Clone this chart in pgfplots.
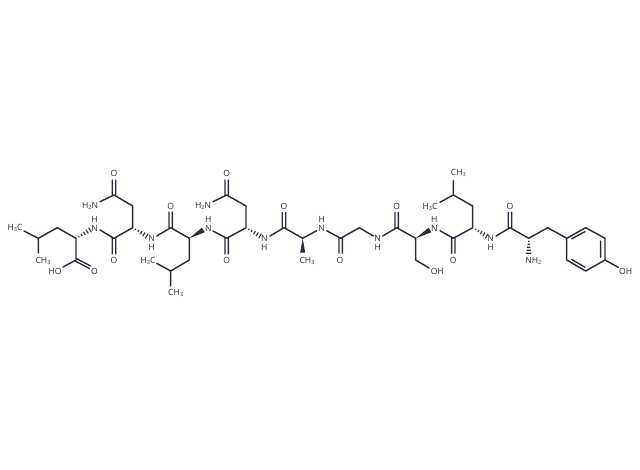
\documentclass[border=0pt]{standalone}
\usepackage{fontspec}
\setmainfont{Open Sans}
\usepackage{pgfplots}
\pgfplotsset{compat=1.18}
\definecolor{bond}{HTML}{262C3C}
\newcommand{\sub}[1]{\raisebox{-0.25ex}{\fontsize{5.5}{5.5}\selectfont #1}}
\newcommand{\lab}[3]{\node[font=\fontsize{8.6}{9}\selectfont, text=bond, inner sep=0pt] at (axis cs:#1,#2) {#3};}
\begin{document}
\begin{tikzpicture}
\begin{axis}[
    width=640pt, height=470pt, scale only axis,
    xmin=0, xmax=640, ymin=0, ymax=470,
    y dir=reverse,
    hide axis, clip=false,
    empty line=jump,
]
% single bonds
\addplot[bond, line width=1.45pt, line join=round, line cap=round, no markers] coordinates {
(24,231) (38.3,238.3) (57.3,227.7) (76,238.3) (76,260) (63,267)

(38.3,238.3) (38.3,253)

(100,230) (114,238.3) (132.7,227.7) (132.7,206) (114,195) (100,201.7)

(156.7,236) (170.7,227.7) (189.3,238.3) (189.3,260) (170.7,271) (170.7,286)

(170.7,271) (156.7,263.3)

(213,231) (226.7,238.3) (246,227.7) (246,206) (226.7,195) (213,201.7)

(270,236) (284,227.7) (302.7,238.3) (316.7,230.7)

(326.7,230.7) (340.7,238.3) (359.3,227.7) (373.3,236)

(382.7,236) (396.7,227.7) (415.7,238.3) (415.7,260) (429,268)

(440,230.7) (453.3,238.3) (472.7,227.7) (472.7,206) (453.3,195) (453.3,180.7)

(453.3,195) (440,202.3)

(496,236) (510,227.7) (528.7,238.3) (547.7,227.7) (566.7,238.3) (585.7,227.7) (605,238.3) (605,260) (585.7,271) (566.7,260) (566.7,238.3)

(605,260) (618.3,267.3)
};
% C=O pairs and the inner ring lines
\addplot[bond, line width=1.35pt, line cap=round, no markers] coordinates {
(75.4,261.2) (89.4,268.5)

(76.7,258.8) (90.7,266)

(112.3,238.3) (112.3,254)

(115.7,238.3) (115.7,254)

(112.3,195) (112.3,180)

(115.7,195) (115.7,180)

(169,227.7) (169,212)

(172.4,227.7) (172.4,212)

(225,238.3) (225,254)

(228.4,238.3) (228.4,254)

(225,195) (225,180)

(228.4,195) (228.4,180)

(282.3,227.7) (282.3,212.3)

(285.7,227.7) (285.7,212.3)

(339,238.3) (339,253.3)

(342.4,238.3) (342.4,253.3)

(395,227.7) (395,212.3)

(398.4,227.7) (398.4,212.3)

(451.6,238.3) (451.6,253.3)

(455,238.3) (455,253.3)

(508.3,227.7) (508.3,212.3)

(511.7,227.7) (511.7,212.3)

(571.7,238.8) (585,231.6)

(600.6,241) (600.6,257.3)

(571.7,259.5) (585,267.2)
};
% solid wedges
\addplot[bond, fill=bond, draw=none, no markers] coordinates {(189.3,238.3) (201.9,227.7) (204.7,232.3)} -- cycle;
\addplot[bond, fill=bond, draw=none, no markers] coordinates {(415.7,238.3) (428.6,227.7) (431.4,232.3)} -- cycle;
\addplot[bond, fill=bond, draw=none, no markers] coordinates {(302.7,238.3) (300.2,252.7) (305.2,252.7)} -- cycle;
% hashed wedges
\addplot[bond, line width=1.1pt, no markers] coordinates {
(78.4,236) (79.2,237.2)

(81,234) (82.2,236)

(83.5,231.8) (85.3,234.8)

(86.1,229.8) (88.3,233.6)

(88.6,227.7) (91.4,232.3)

(135.1,230) (135.9,228.8)

(137.7,232) (138.9,230)

(140.2,234.2) (142,231.2)

(142.8,236.2) (145,232.4)

(145.3,238.3) (148.1,233.7)

(248.4,230) (249.2,228.8)

(251,232) (252.2,230)

(253.5,234.2) (255.3,231.2)

(256.1,236.2) (258.3,232.4)

(258.6,238.3) (261.4,233.7)

(475.1,230) (475.9,228.8)

(477.7,232) (478.9,230)

(480.2,234.2) (482,231.2)

(482.8,236.2) (485,232.4)

(485.3,238.3) (488.1,233.7)

(528,241.3) (529.4,241.3)

(527.5,244.3) (529.9,244.3)

(527,247.3) (530.4,247.3)

(526.5,250.3) (530.9,250.3)

(526,253.3) (531.4,253.3)
};
% atom labels
\lab{15}{228}{H\sub{3}C}
\lab{43}{261}{CH\sub{3}}
\lab{55}{271}{HO}
\lab{94.5}{271.5}{O}
\lab{94.5}{228}{N}
\lab{94.5}{219}{H}
\lab{114}{260.7}{O}
\lab{114}{173}{O}
\lab{90}{206}{H\sub{2}N}
\lab{151.7}{238.3}{N}
\lab{151.7}{247.3}{H}
\lab{170.7}{206}{O}
\lab{148}{260.7}{H\sub{3}C}
\lab{175.7}{293.3}{CH\sub{3}}
\lab{208.3}{228}{N}
\lab{208.3}{219.3}{H}
\lab{226.7}{260}{O}
\lab{226.7}{173.3}{O}
\lab{203}{206}{H\sub{2}N}
\lab{264.3}{238.3}{N}
\lab{264.3}{247.3}{H}
\lab{284}{206}{O}
\lab{307}{261}{CH\sub{3}}
\lab{321.7}{228.3}{N}
\lab{321.7}{219.3}{H}
\lab{340}{260}{O}
\lab{377.7}{238.3}{N}
\lab{377.7}{247.3}{H}
\lab{396.7}{206}{O}
\lab{437.3}{271}{OH}
\lab{434.3}{228.3}{N}
\lab{434.3}{219.3}{H}
\lab{453.3}{260}{O}
\lab{458.3}{173.3}{CH\sub{3}}
\lab{430}{206.7}{H\sub{3}C}
\lab{490.7}{238.3}{N}
\lab{490.7}{247.3}{H}
\lab{510}{206}{O}
\lab{533.3}{260.7}{NH\sub{2}}
\lab{625.7}{271}{OH}
\path (axis cs:0,0) rectangle (axis cs:640,470);
\end{axis}
\end{tikzpicture}
\end{document}
